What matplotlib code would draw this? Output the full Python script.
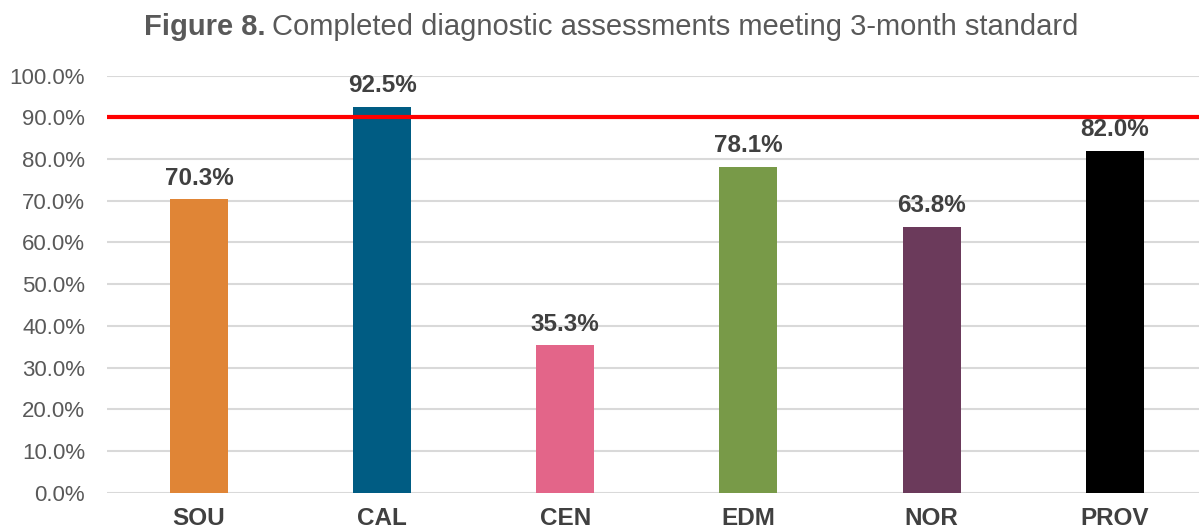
import numpy as np
import matplotlib.pyplot as plt
from matplotlib.ticker import PercentFormatter

plt.rcParams['font.family'] = ['Liberation Sans', 'DejaVu Sans']

# Data
regions = ["SOU", "CAL", "CEN", "EDM", "NOR", "PROV"]
values = [70.3, 92.5, 35.3, 78.1, 63.8, 82.0]
colors = ["#E08536", "#005C83", "#E36589", "#789A48", "#6B3A5B", "#000000"]
target = 90.0

fig = plt.figure(figsize=(11.99, 5.32), dpi=100)
ax = fig.add_axes([0.0895, 0.074, 0.9105, 0.784])

x = np.arange(len(regions))
bars = ax.bar(x, values, width=0.317, color=colors, zorder=2)

for xi, v in zip(x, values):
    ax.annotate(f"{v:.1f}%", (xi, v), xytext=(0, 7), textcoords="offset points",
                ha="center", va="bottom", fontsize=17.5, fontweight="bold", color="#404040")

ax.axhline(target, color="#FF0000", linewidth=3, zorder=3)

ax.set_ylim(0, 100)
ax.set_xlim(-0.5, 5.46)
ax.set_yticks(np.arange(0, 101, 10))
ax.yaxis.set_major_formatter(PercentFormatter(decimals=1))
ax.set_xticks(x)
ax.set_xticklabels(regions, fontsize=17.5, fontweight="bold", color="#404040")
ax.tick_params(axis="y", labelsize=16, labelcolor="#595959", length=0, pad=16)
ax.tick_params(axis="x", length=0, pad=10)
ax.grid(axis="y", color="#D9D9D9", linewidth=1.5, zorder=0)
for s in ax.spines.values():
    s.set_visible(False)

fig.text(0.2219, 0.949, "Figure 8.", ha="right", va="center",
         fontsize=21, fontweight="bold", color="#595959")
fig.text(0.2269, 0.949, "Completed diagnostic assessments meeting 3-month standard",
         ha="left", va="center", fontsize=21, color="#595959")

fig.savefig("out.png", dpi=100)
